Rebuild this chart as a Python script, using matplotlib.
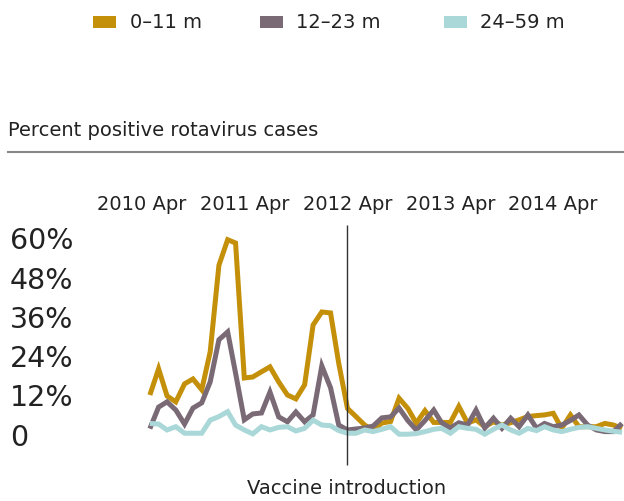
import numpy as np
import pandas as pd
import matplotlib
matplotlib.use('Agg')
import matplotlib.pyplot as plt
from matplotlib.patches import Rectangle
from matplotlib.lines import Line2D

# monthly percent positive, May 2010 - Dec 2014
months = pd.date_range('2010-05-01', periods=56, freq='MS')

age_0_11 = [12.1, 20.1, 11.8, 10.0, 15.5, 17.0, 13.7, 25.3, 51.8, 59.6,
            58.6, 17.3, 17.6, 19.2, 20.7, 16.1, 12.1, 10.9, 15.2, 33.5,
            37.5, 37.2, 21.8, 8.0, 5.5, 2.9, 1.4, 3.5, 4.0, 11.1,
            8.0, 3.5, 7.3, 3.7, 3.7, 3.7, 8.6, 3.5, 4.5, 2.4,
            3.9, 2.9, 3.6, 4.5, 5.5, 5.8, 6.0, 6.5, 1.9, 6.0,
            2.4, 2.4, 2.4, 3.4, 2.9, 1.9]
age_12_23 = [1.8, 8.4, 10.0, 7.5, 3.2, 8.1, 9.7, 16.1, 29.0, 31.4,
             18.8, 4.5, 6.3, 6.6, 13.0, 5.4, 3.9, 6.9, 3.9, 6.0,
             21.0, 14.3, 2.9, 1.4, 1.7, 2.0, 2.6, 5.1, 5.4, 8.1,
             4.3, 1.4, 4.3, 7.5, 3.6, 2.0, 3.6, 2.9, 7.5, 2.0,
             5.0, 1.9, 5.0, 2.4, 6.0, 1.9, 3.4, 2.4, 2.9, 4.3,
             6.0, 2.9, 1.4, 0.9, 0.9, 3.4]
age_24_59 = [3.4, 3.2, 1.4, 2.4, 0.4, 0.4, 0.4, 4.4, 5.5, 7.0,
             2.9, 1.4, 0.2, 2.4, 1.4, 2.2, 2.4, 1.1, 1.9, 4.4,
             2.9, 2.7, 1.2, 0.4, 0.4, 1.4, 0.9, 1.6, 2.4, 0.1,
             0.1, 0.3, 0.9, 1.6, 1.9, 0.4, 2.4, 1.9, 1.6, 0.1,
             1.6, 2.9, 1.4, 0.4, 1.9, 1.2, 2.4, 1.4, 0.9, 1.6,
             2.2, 2.4, 1.9, 1.4, 1.0, 0.7]

series_labels = ['0\u201311 m', '12\u201323 m', '24\u201359 m']
colors = ['#C4900A', '#7A6A76', '#AAD7D7']

ytick_vals = [0, 12, 24, 36, 48, 60]
ytick_labels = ['0', '12%', '24%', '36%', '48%', '60%']
xtick_dates = pd.to_datetime(['2010-04-01', '2011-04-01', '2012-04-01',
                              '2013-04-01', '2014-04-01'])
xtick_labels = ['2010 Apr', '2011 Apr', '2012 Apr', '2013 Apr', '2014 Apr']
vaccine_date = pd.Timestamp('2012-04-01')

W, H = 624, 501
text_color = '#222222'

fig = plt.figure(figsize=(W / 100, H / 100), dpi=100)
ax = fig.add_axes([140 / W, (H - 445) / H, 484 / W, 220 / H])

for vals, c in zip([age_0_11, age_12_23, age_24_59], colors):
    ax.plot(months, vals, color=c, lw=3.6, solid_joinstyle='miter',
            solid_capstyle='butt', clip_on=False)

ax.set_xlim(pd.Timestamp('2010-03-27'), pd.Timestamp('2014-12-08'))
ax.set_ylim(-3.2, 64.1)

# vaccine introduction marker
ax.vlines(vaccine_date, -9.3, 64.1, color='#333333', lw=1, clip_on=False)

ax.set_xticks(xtick_dates)
ax.set_xticklabels(xtick_labels)
ax.tick_params(axis='x', top=True, labeltop=True, bottom=False,
               labelbottom=False, length=0, pad=8, labelsize=14,
               labelcolor=text_color)
ax.set_yticks(ytick_vals)
ax.set_yticklabels(ytick_labels)
ax.tick_params(axis='y', length=0, pad=130 * 0.72, labelsize=20.5,
               labelcolor=text_color)
for lab in ax.get_yticklabels():
    lab.set_horizontalalignment('left')

for s in ax.spines.values():
    s.set_visible(False)
ax.patch.set_alpha(0)

# legend
sq_x = [93, 260, 444]
txt_x = [130, 296, 480]
for sx, tx, lab, c in zip(sq_x, txt_x, series_labels, colors):
    fig.add_artist(Rectangle((sx / W, 1 - 28 / H), 23 / W, 12 / H,
                             transform=fig.transFigure, color=c, lw=0))
    fig.text(tx / W, 1 - 22 / H, lab, va='center', ha='left',
             fontsize=14, color=text_color)

# title and rule
fig.text(8 / W, 1 - 131 / H, 'Percent positive rotavirus cases',
         va='center', ha='left', fontsize=14, color=text_color)
fig.add_artist(Line2D([8 / W, 1], [1 - 152 / H, 1 - 152 / H],
                      transform=fig.transFigure, color='#888888', lw=1.5))

fig.text(347 / W, 1 - 489 / H, 'Vaccine introduction', ha='center',
         va='center', fontsize=14, color=text_color)

plt.savefig('out.png', dpi=100)
